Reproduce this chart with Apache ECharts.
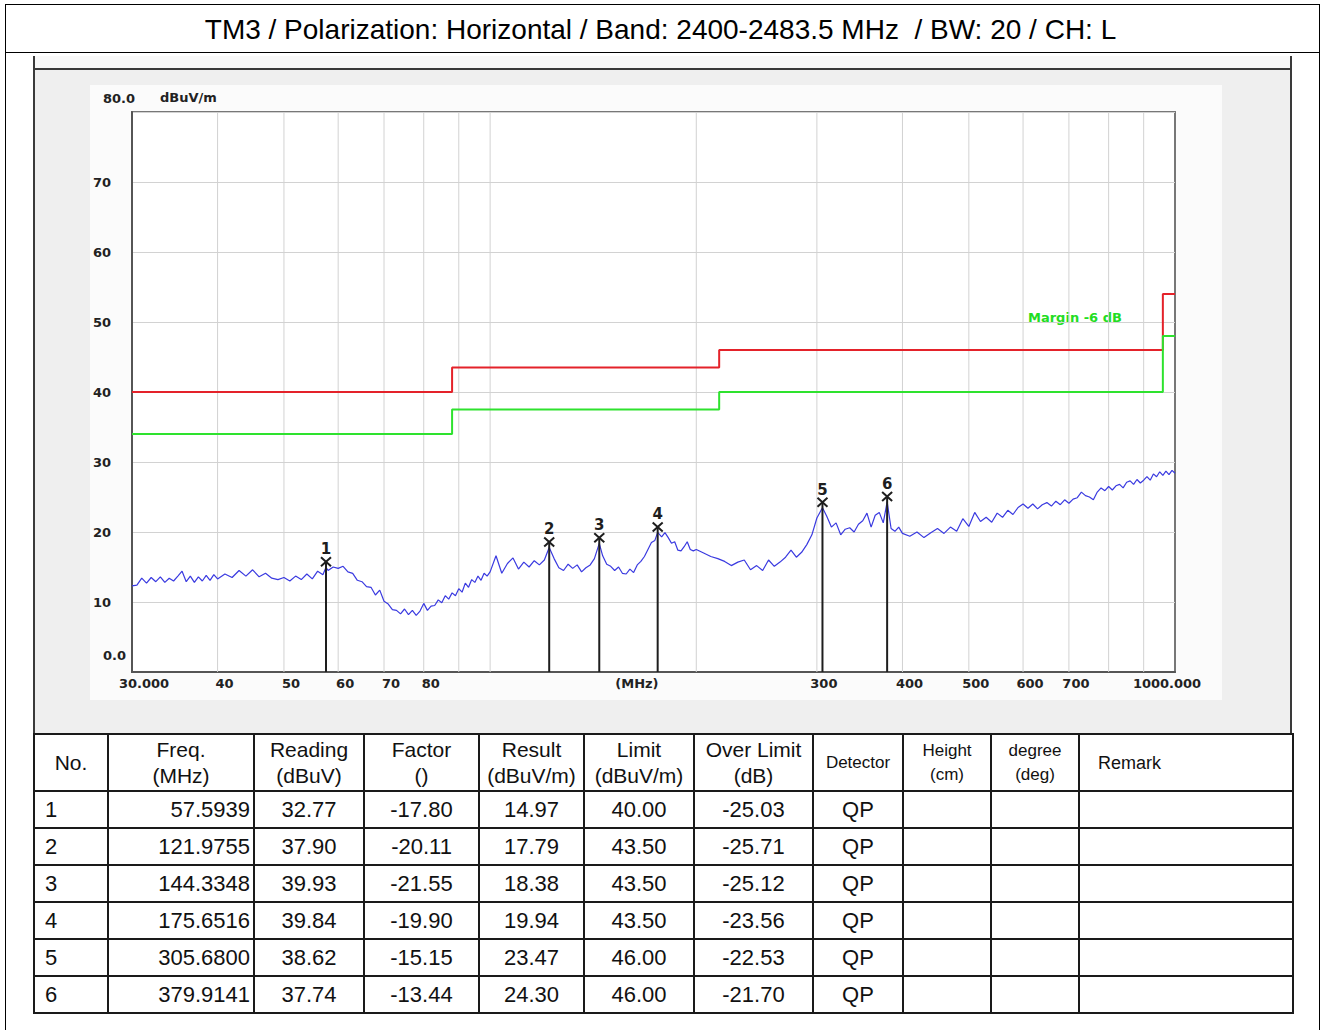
<!DOCTYPE html>
<html><head><meta charset="utf-8">
<script src="https://cdn.jsdelivr.net/npm/echarts@6/dist/echarts.min.js"></script>
<style>
html,body{margin:0;padding:0;background:#fff;}
body{width:1321px;height:1030px;position:relative;overflow:hidden;font-family:"Liberation Sans",Arial,sans-serif;}
.abs{position:absolute;box-sizing:border-box;}
#outer{left:5px;top:4px;width:1315px;height:1040px;border:1px solid #000;border-bottom:none;}
#titleLine{left:5px;top:52px;width:1315px;height:1px;background:#000;}
#panel{left:33px;top:56px;width:1259px;height:679px;background:#efefef;border-left:2px solid #3a3a3a;border-right:2px solid #3a3a3a;}
#band{left:33px;top:56px;width:1259px;height:14px;background:#f8f8f8;border-left:2px solid #3a3a3a;border-right:2px solid #3a3a3a;border-bottom:2px solid #3a3a3a;}
#inner{left:90px;top:85px;width:1132px;height:615px;background:#fbfbfb;}
#chart{left:0;top:0;width:1321px;height:1030px;}
#tbl{left:33px;top:733px;}
table{border-collapse:collapse;table-layout:fixed;width:1259px;color:#111;}
td{border:2px solid #1a1a1a;padding:0;text-align:center;font-size:22px;height:35px;white-space:nowrap;overflow:hidden;}
tr.h td{height:55px;font-size:21px;line-height:26px;}
td.no{text-align:left;padding-left:10px;}
td.fr{text-align:right;padding-right:3px;}
td.sm{font-size:17px !important;line-height:24px !important;}
td.rm{text-align:left;padding-left:18px;font-size:18px !important;}
</style>
</head><body>
<div class="abs" id="outer"></div>
<div class="abs" id="titleLine"></div>
<div class="abs" id="panel"></div>
<div class="abs" id="band"></div>
<div class="abs" id="inner"></div>
<div class="abs" id="chart"></div>
<div class="abs" id="tbl"></div>
<script>
// ---------- data ----------
const titleText = 'TM3 / Polarization: Horizontal / Band: 2400-2483.5 MHz  / BW: 20 / CH: L';
const yUnit = 'dBuV/m';
const marginText = 'Margin -6 dB';

const xLabelFreqs = [30, 40, 50, 60, 70, 80, 160, 300, 400, 500, 600, 700, 1000];
const xLabelTexts = ['30.000', '40', '50', '60', '70', '80', '(MHz)', '300', '400', '500', '600', '700', '1000.000'];
const gridFreqs = [40, 50, 60, 70, 80, 90, 100, 200, 300, 400, 500, 600, 700, 800, 900];

const limitFreq  = [30, 88, 88, 216, 216, 960, 960, 1000];
const limitLevel = [40, 40, 43.5, 43.5, 46, 46, 54, 54];
const marginLevel = [34, 34, 37.5, 37.5, 40, 40, 48, 48];

const traceFreq = [
 30,30.5,31,31.5,32,32.5,33,33.5,34,34.5,35,35.5,36,36.5,37,37.5,38,38.5,39,39.5,40,
 41,42,43,44,45,46,47,48,49,50,51,52,53,54,55,56,57,57.5939,58,59,60,
 61,62,63,64,65,66,67,68,69,70,71,72,73,74,75,76,77,78,79,80,
 81,82,83,84,85,86,87,88,89,90,91,92,93,94,95,96,97,98,99,100,
 102,104,106,108,110,112,114,116,118,120,121.9755,124,126,128,130,132,134,136,138,140,142,144.3348,
 146,148,150,152,154,156,158,160,162,164,166,168,170,172,174,175.6516,178,180,182,184,186,188,190,192,194,196,198,200,
 205,210,215,220,225,230,235,240,245,250,255,260,265,270,275,280,285,290,295,300,305.68,
 310,315,320,325,330,335,340,345,350,355,360,365,370,375,379.9141,385,390,395,400,
 410,420,430,440,450,460,470,480,490,500,510,520,530,540,550,560,570,580,590,600,
 610,620,630,640,650,660,670,680,690,700,710,720,730,740,750,760,770,780,790,800,
 810,820,830,840,850,860,870,880,890,900,910,920,930,940,950,960,970,980,990,1000
];
const traceLevel = [
 12.3,12.4,13.4,12.7,13.5,12.9,13.6,12.8,13.4,13.0,13.7,14.4,12.9,13.7,12.8,13.6,13.0,13.8,13.1,13.9,13.3,
 14.0,13.5,14.5,13.7,14.6,13.6,14.1,13.4,13.2,13.5,13.0,13.7,13.2,14.0,13.3,14.4,13.9,14.97,14.5,15.0,14.8,
 15.1,14.3,14.1,13.1,12.9,12.2,12.1,11.0,11.7,10.1,9.7,8.9,8.8,8.3,9.0,8.2,8.8,8.1,8.7,9.8,
 8.8,9.4,9.5,10.3,9.9,10.9,10.4,11.3,10.9,11.9,11.4,12.7,12.1,13.2,12.8,13.7,13.1,14.1,13.7,14.3,
 16.6,14.1,15.5,16.3,14.7,15.7,15.0,15.9,15.3,16.0,17.79,16.2,14.9,14.5,15.4,14.8,15.3,14.3,14.9,15.3,16.2,18.38,
 16.6,15.4,15.1,14.5,15.0,14.1,14.0,14.7,14.2,15.3,15.8,16.5,17.5,18.5,18.8,19.94,19.3,19.9,19.2,18.4,18.6,17.4,17.3,17.9,18.6,17.5,17.3,17.5,
 17.0,16.5,16.2,15.8,15.2,15.7,16.0,14.6,15.2,14.5,16.0,15.1,15.7,16.4,17.4,16.4,17.1,18.2,19.6,22.0,23.47,
 22.3,20.7,21.3,19.6,20.4,20.6,20.0,21.1,21.6,22.7,20.7,22.4,22.8,21.3,24.30,20.5,20.1,20.7,19.8,
 19.4,20.0,19.2,19.9,20.5,19.8,20.7,20.1,21.9,20.8,22.8,21.5,22.1,21.4,22.7,22.1,23.1,22.5,23.5,24.0,
 23.4,24.0,23.3,23.9,24.2,23.7,24.4,23.9,24.6,24.1,24.7,24.9,25.7,25.2,25.0,24.6,25.7,26.3,25.9,26.5,
 26.0,26.6,26.8,26.3,27.1,27.3,26.8,27.5,27.0,27.4,27.9,27.4,28.3,27.9,28.6,28.1,28.7,28.2,28.8,28.4
];

const markNo       = [1, 2, 3, 4, 5, 6];
const markFreq     = [57.5939, 121.9755, 144.3348, 175.6516, 305.6800, 379.9141];
const markReading  = [32.77, 37.90, 39.93, 39.84, 38.62, 37.74];
const markFactor   = [-17.80, -20.11, -21.55, -19.90, -15.15, -13.44];
const markResult   = [14.97, 17.79, 18.38, 19.94, 23.47, 24.30];
const markLimit    = [40.00, 43.50, 43.50, 43.50, 46.00, 46.00];
const markOver     = [-25.03, -25.71, -25.12, -23.56, -22.53, -21.70];
const markDetector = ['QP', 'QP', 'QP', 'QP', 'QP', 'QP'];

// ---------- table ----------
let html = '<table><colgroup>' +
 [74,146,110,115,105,110,119,90,88,88,214].map(w => '<col style="width:' + w + 'px">').join('') +
 '</colgroup><tr class="h"><td>No.</td><td>Freq.<br>(MHz)</td><td>Reading<br>(dBuV)</td><td>Factor<br>()</td>' +
 '<td>Result<br>(dBuV/m)</td><td>Limit<br>(dBuV/m)</td><td>Over Limit<br>(dB)</td><td class="sm">Detector</td>' +
 '<td class="sm">Height<br>(cm)</td><td class="sm">degree<br>(deg)</td><td class="rm">Remark</td></tr>';
for (let i = 0; i < markNo.length; i++) {
  html += '<tr><td class="no">' + markNo[i] + '</td><td class="fr">' + markFreq[i].toFixed(4) + '</td><td>' +
    markReading[i].toFixed(2) + '</td><td>' + markFactor[i].toFixed(2) + '</td><td>' + markResult[i].toFixed(2) +
    '</td><td>' + markLimit[i].toFixed(2) + '</td><td>' + markOver[i].toFixed(2) + '</td><td>' + markDetector[i] +
    '</td><td></td><td></td><td></td></tr>';
}
html += '</table>';
document.getElementById('tbl').innerHTML = html;

// ---------- chart ----------
const chart = echarts.init(document.getElementById('chart'), null, {renderer: 'svg', width: 1321, height: 1030});
const axisFont = 'bold 13px "DejaVu Sans"';

const option = {
  animation: false,
  backgroundColor: 'transparent',
  title: {
    text: titleText, left: 'center', top: 15, padding: 0,
    textStyle: {fontFamily: 'Liberation Sans', fontSize: 28, fontWeight: 'normal', color: '#000'}
  },
  grid: {left: 132, top: 112, width: 1043, height: 560, show: true, backgroundColor: '#fff',
         borderColor: '#777', borderWidth: 2, containLabel: false, outerBoundsMode: 'none'},
  xAxis: {
    type: 'log', logBase: 10, min: 30, max: 1000,
    axisLine: {show: true, lineStyle: {color: '#555', width: 2}},
    axisTick: {show: false}, axisLabel: {show: false}, splitLine: {show: false}, minorSplitLine: {show: false}
  },
  yAxis: {
    type: 'value', min: 0, max: 80, interval: 10,
    name: yUnit, nameLocation: 'end', nameGap: 8,
    nameTextStyle: {align: 'left', padding: [0, 0, 0, 28], fontFamily: 'DejaVu Sans', fontWeight: 'bold', fontSize: 13, color: '#222'},
    axisLine: {show: true, lineStyle: {color: '#555', width: 2}},
    axisTick: {show: false},
    splitLine: {show: true, lineStyle: {color: '#d2d2d2', width: 1}},
    axisLabel: {
      margin: 39, align: 'left', color: '#222', fontFamily: 'DejaVu Sans', fontWeight: 'bold', fontSize: 13,
      formatter: v => v === 80 ? '{t|80.0}' : (v === 0 ? '{b|0.0}' : String(v)),
      rich: {
        t: {padding: [0, 0, 28, 10], fontFamily: 'DejaVu Sans', fontWeight: 'bold', fontSize: 13, color: '#222'},
        b: {padding: [0, 0, 34, 10], fontFamily: 'DejaVu Sans', fontWeight: 'bold', fontSize: 13, color: '#222'}
      }
    }
  },
  graphic: [{
    type: 'text', left: 1028, top: 311,
    style: {text: marginText, font: 'bold 13px "DejaVu Sans"', fill: '#22dd22'}
  }],
  series: [
    { // vertical grid lines of the log axis
      type: 'custom', z: 1, silent: true,
      data: gridFreqs.map(f => [f, 0]),
      renderItem: (params, api) => {
        const a = api.coord([api.value(0), 80]);
        const b = api.coord([api.value(0), 0]);
        return {type: 'line', shape: {x1: a[0], y1: a[1], x2: b[0], y2: b[1]}, style: {stroke: '#d2d2d2', lineWidth: 1}};
      }
    },
    { // x axis labels
      type: 'custom', z: 3, silent: true, clip: false,
      data: xLabelFreqs.map((f, i) => [f, 0, i]),
      renderItem: (params, api) => {
        const i = api.value(2);
        const p = api.coord([api.value(0), 0]);
        const t = xLabelTexts[i];
        const dx = i === 0 ? 12 : (i === xLabelTexts.length - 1 ? -8 : 7);
        return {type: 'text', x: p[0] + dx, y: p[1] + 5,
          style: {text: t, align: 'center', verticalAlign: 'top', font: axisFont, fill: '#222'}};
      }
    },
    {
      type: 'line', z: 4, name: 'Limit', showSymbol: false, silent: true,
      data: limitFreq.map((f, i) => [f, limitLevel[i]]),
      lineStyle: {color: '#e4222a', width: 2}
    },
    {
      type: 'line', z: 4, name: 'Margin', showSymbol: false, silent: true,
      data: limitFreq.map((f, i) => [f, marginLevel[i]]),
      lineStyle: {color: '#2ee22e', width: 2}
    },
    {
      type: 'line', z: 5, name: 'Trace', showSymbol: false, silent: true,
      data: traceFreq.map((f, i) => [f, traceLevel[i]]),
      lineStyle: {color: '#3a3ae0', width: 1.2}
    },
    { // markers
      type: 'custom', z: 6, silent: true, clip: false,
      data: markFreq.map((f, i) => [f, markResult[i], markNo[i]]),
      renderItem: (params, api) => {
        const p = api.coord([api.value(0), api.value(1)]);
        const b = api.coord([api.value(0), 0]);
        const s = {stroke: '#1e1e1e', lineWidth: 2};
        return {type: 'group', children: [
          {type: 'line', shape: {x1: p[0], y1: p[1] - 5, x2: b[0], y2: b[1]}, style: s},
          {type: 'line', shape: {x1: p[0] - 5, y1: p[1] - 10, x2: p[0] + 5, y2: p[1] - 1}, style: s},
          {type: 'line', shape: {x1: p[0] - 5, y1: p[1] - 1, x2: p[0] + 5, y2: p[1] - 10}, style: s},
          {type: 'text', x: p[0], y: p[1] - 18, style: {text: String(api.value(2)), align: 'center', verticalAlign: 'middle', font: 'bold 15px "DejaVu Sans"', fill: '#1e1e1e'}}
        ]};
      }
    }
  ]
};
chart.setOption(option);
</script>
</body></html>
